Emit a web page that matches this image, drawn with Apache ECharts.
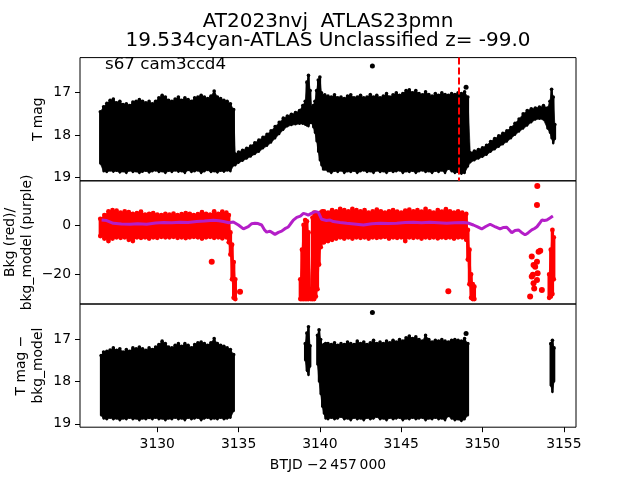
<!DOCTYPE html>
<html>
<head>
<meta charset="utf-8">
<script src="https://cdn.jsdelivr.net/npm/echarts/dist/echarts.min.js"></script>
<style>html,body{margin:0;padding:0;background:#fff}#c{width:640px;height:480px}</style>
</head>
<body>
<div id="c"></div>
<script>
// ---------- axis ticks ----------
const xTicks = [3130, 3135, 3140, 3145, 3150, 3155];
const magTicks = [17, 18, 19];
const bkgTicks = [-20, 0];
const xRange = [3125.25, 3155.75];
const p1Range = [16.17, 19.08];
const p2Range = [-32, 17.9];
const p3Range = [16.16, 19.08];
const flareTime = 3148.56;

// ---------- panel 1: T mag envelope (time, brightest, faintest) ----------
const p1aT = [3126.5,3126.7,3126.9,3127.1,3127.3,3127.5,3127.7,3127.9,3128.1,3128.3,3128.5,3128.7,3128.9,3129.1,3129.3,3129.5,3129.7,3129.9,3130.1,3130.3,3130.5,3130.7,3130.9,3131.1,3131.3,3131.5,3131.7,3131.9,3132.1,3132.3,3132.5,3132.7,3132.9,3133.1,3133.3,3133.5,3133.7,3133.9,3134.1,3134.3,3134.5,3134.7];
const p1aTop = [17.45,17.33,17.25,17.18,17.15,17.24,17.2,17.28,17.26,17.3,17.22,17.2,17.16,17.2,17.24,17.2,17.26,17.2,17.12,17.06,17.1,17.18,17.2,17.15,17.1,17.18,17.12,17.16,17.2,17.12,17.1,17.06,17.1,17.14,17.08,16.96,17.1,17.14,17.18,17.2,17.26,17.4];
const p1aBot = [18.68,18.86,18.88,18.84,18.87,18.85,18.89,18.86,18.9,18.84,18.88,18.86,18.9,18.87,18.85,18.89,18.86,18.84,18.88,18.86,18.9,18.85,18.88,18.84,18.87,18.86,18.9,18.83,18.88,18.86,18.84,18.9,18.86,18.83,18.88,18.86,18.89,18.85,18.87,18.84,18.86,18.72];
const p1bT = [3134.8,3135.0,3135.25,3135.5,3135.75,3136.0,3136.25,3136.5,3136.75,3137.0,3137.25,3137.5,3137.75,3138.0,3138.25,3138.5,3138.75,3138.95,3139.1,3139.2,3139.3,3139.4,3139.5,3139.6,3139.7,3139.8,3139.9,3140.0,3140.1,3140.2];
const p1bTop = [18.45,18.4,18.36,18.31,18.26,18.18,18.12,18.05,17.98,17.9,17.8,17.7,17.6,17.55,17.51,17.47,17.42,17.3,17.2,16.75,16.59,16.95,17.35,17.3,17.2,16.95,16.7,16.63,17.0,17.08];
const p1bBot = [18.72,18.66,18.61,18.56,18.51,18.45,18.4,18.32,18.26,18.18,18.08,17.98,17.88,17.8,17.77,17.75,17.74,17.74,17.76,17.78,17.8,17.72,17.72,17.82,17.95,18.15,18.4,18.6,18.72,18.82];
const p1cT = [3140.3,3140.5,3140.7,3140.9,3141.1,3141.3,3141.5,3141.7,3141.9,3142.1,3142.3,3142.5,3142.7,3142.9,3143.1,3143.3,3143.5,3143.7,3143.9,3144.1,3144.3,3144.5,3144.7,3144.9,3145.1,3145.3,3145.5,3145.7,3145.9,3146.1,3146.3,3146.5,3146.7,3146.9,3147.1,3147.3,3147.5,3147.7,3147.9,3148.1,3148.3,3148.5,3148.7,3148.9,3149.1];
const p1cTop = [17.05,17.08,17.1,17.05,17.12,17.1,17.14,17.08,17.05,17.12,17.1,17.06,17.12,17.1,17.04,17.1,17.06,17.12,17.08,17.02,17.1,17.05,17.0,17.06,17.02,16.95,16.93,17.0,16.95,17.02,17.05,16.98,17.04,17.08,17.02,17.06,17.0,17.04,17.06,17.02,17.04,17.0,17.02,16.98,17.1];
const p1cBot = [18.82,18.86,18.9,18.85,18.88,18.84,18.9,18.86,18.88,18.85,18.9,18.86,18.84,18.88,18.86,18.9,18.84,18.88,18.86,18.9,18.85,18.88,18.86,18.84,18.9,18.86,18.88,18.85,18.9,18.86,18.84,18.88,18.86,18.9,18.85,18.88,18.84,18.9,18.8,18.86,18.9,18.88,18.92,18.9,18.75];
const p1dT = [3149.25,3149.5,3149.75,3150.0,3150.25,3150.5,3150.75,3151.0,3151.25,3151.5,3151.75,3152.0,3152.25,3152.5,3152.75,3153.0,3153.25,3153.5,3153.75,3154.0,3154.15,3154.25,3154.35,3154.45];
const p1dTop = [18.42,18.38,18.34,18.3,18.24,18.15,18.08,18.02,17.96,17.9,17.82,17.72,17.62,17.5,17.42,17.38,17.36,17.34,17.3,17.36,17.2,16.92,17.1,17.75];
const p1dBot = [18.65,18.6,18.56,18.52,18.47,18.4,18.34,18.28,18.22,18.16,18.08,18.0,17.92,17.85,17.78,17.7,17.64,17.62,17.64,17.85,17.95,18.08,18.2,18.1];
const p1PtT = [3143.23, 3148.99];
const p1PtM = [16.37, 16.87];

// ---------- panel 2: Bkg envelope (red) and bkg_model (purple) ----------
const p2aT = [3126.5,3126.75,3127,3127.25,3127.5,3127.75,3128,3128.25,3128.5,3128.75,3129,3129.25,3129.5,3129.75,3130,3130.25,3130.5,3130.75,3131,3131.25,3131.5,3131.75,3132,3132.25,3132.5,3132.75,3133,3133.25,3133.5,3133.75,3134,3134.25,3134.4,3134.5,3134.6,3134.7,3134.8];
const p2aTop = [2.5,4.0,5.5,6.0,5.8,5.0,5.5,5.2,4.5,4.8,5.4,4.2,4.5,4.8,4.2,4.0,4.5,4.2,4.6,4.0,4.4,4.8,4.5,4.0,4.4,5.2,4.5,4.2,5.5,4.5,5.4,5.0,4.0,-3,-8,-15,-22];
const p2aBot = [-4.5,-5.5,-6.5,-5.5,-5.0,-5.2,-5.0,-6.0,-6.5,-5.0,-5.2,-5.0,-5.5,-5.0,-5.2,-4.8,-5.0,-5.0,-4.8,-5.2,-5.0,-5.3,-5.0,-4.8,-5.0,-5.5,-5.0,-4.8,-5.2,-5.0,-5.4,-5.0,-7.0,-12,-22,-29.5,-30];
const p2bT = [3138.8,3138.9,3139.0,3139.1,3139.2,3139.3,3139.45,3139.55,3139.65,3139.75,3139.85,3139.95,3140.05,3140.15,3140.25,3140.5,3140.75,3141,3141.25,3141.5,3141.75,3142,3142.25,3142.5,3142.75,3143,3143.25,3143.5,3143.75,3144,3144.25,3144.5,3144.75,3145,3145.25,3145.5,3145.75,3146,3146.25,3146.5,3146.75,3147,3147.25,3147.5,3147.75,3148,3148.25,3148.5,3148.75,3149,3149.1,3149.2,3149.3,3149.4,3149.5];
const p2bTop = [-22,-10,0,2,1.5,-3,-26,3,5,4.5,4,4.5,5,5.5,5.5,5.0,6.0,5.5,6.5,6.0,5.5,6.5,6.0,5.5,6.0,5.0,5.5,6.2,5.5,5.0,5.5,6.0,5.4,5.0,5.8,6.2,5.5,6.0,5.4,6.5,5.5,5.0,6.0,5.4,6.4,5.5,5.0,5.5,5.0,4.5,-2,-10,-20,-24,-25];
const p2bBot = [-30,-30,-30,-30,-30,-30,-30,-30,-30,-29,-26,-16,-9,-7,-7,-6.5,-6,-5.5,-5,-5.5,-5,-5.5,-5,-5.2,-5,-5.5,-5,-5.2,-5,-4.8,-5.5,-5,-5.2,-5,-6.5,-5,-5.2,-5,-5.5,-5,-5.2,-5,-5.4,-5,-5.2,-5,-5.5,-5,-5,-6,-14,-24,-29.5,-30,-30];
const p2cT = [3154.1,3154.2,3154.3,3154.38];
const p2cTop = [-20,-10,-2,-5];
const p2cBot = [-29.5,-29,-28,-22];
const p2PtT = [3133.35,3135.09,3147.9,3153.37,3153.35,3153.03,3153.45,3153.55,3153.14,3153.24,3153.35,3153.03,3153.35,3153.14,3153.18,3153.65,3152.93,3153.1,3153.39];
const p2PtV = [-14.9,-27,-26.8,15.8,8.1,-12.8,-10.8,-10.4,-16.2,-16.9,-14.9,-20.9,-22.3,-23.6,-25.7,-26.3,-29,-20.2,-19.5];
const modelT = [3126.58,3126.89,3127.3,3127.8,3128.33,3128.8,3129.35,3129.9,3130.38,3130.9,3131.4,3131.9,3132.42,3132.9,3133.45,3133.8,3134.07,3134.4,3134.68,3134.99,3135.3,3135.6,3135.8,3136.01,3136.2,3136.42,3136.6,3136.73,3136.94,3137.24,3137.45,3137.65,3137.85,3138.06,3138.2,3138.37,3138.58,3138.8,3138.99,3139.15,3139.29,3139.45,3139.6,3139.75,3139.91,3140.11,3140.4,3140.63,3140.83,3141.24,3141.65,3142.1,3142.68,3143.2,3143.7,3144.2,3144.73,3145.25,3145.75,3146.25,3146.78,3147.3,3147.8,3148.3,3148.83,3149.1,3149.44,3149.7,3149.95,3150.2,3150.47,3150.8,3151.08,3151.3,3151.49,3151.65,3151.8,3152.0,3152.21,3152.4,3152.62,3152.8,3153.03,3153.2,3153.35,3153.5,3153.65,3153.8,3153.96,3154.15,3154.33];
const modelV = [2.0,1.8,0.7,0.4,0.3,0.5,0.3,0.8,1.0,0.9,1.1,1.0,1.4,1.6,1.9,1.7,1.4,0.9,1.2,0,-1.6,-0.7,0.5,0.7,0.6,0,-2.0,-2.9,-2.5,-3.8,-3.0,-2.5,-1.5,-0.8,0.5,2.0,3.1,3.6,4.7,4.4,4.0,4.6,5.1,5.4,5.1,2.3,1.8,2.0,1.4,1.0,0.7,0.4,0,0.5,0.7,0.6,0.7,1.0,1.1,0.9,1.1,0.9,0.7,0.9,1.0,0.8,0,-0.8,-1.6,-0.6,0.3,-0.8,-1.6,-1.0,-0.9,-2.0,-3.1,-2.2,-2.0,-3.0,-4.0,-3.2,-2.0,-1.4,-0.7,0.6,2.0,1.8,2.0,2.8,3.6];

// ---------- panel 3: T mag - bkg_model envelope ----------
const p3aT = [3126.55,3126.7,3126.9,3127.1,3127.3,3127.5,3127.7,3127.9,3128.1,3128.3,3128.5,3128.7,3128.9,3129.1,3129.3,3129.5,3129.7,3129.9,3130.1,3130.3,3130.5,3130.7,3130.9,3131.1,3131.3,3131.5,3131.7,3131.9,3132.1,3132.3,3132.5,3132.7,3132.9,3133.1,3133.3,3133.5,3133.7,3133.9,3134.1,3134.3,3134.5,3134.7];
const p3aTop = [17.38,17.3,17.28,17.25,17.2,17.26,17.22,17.3,17.24,17.28,17.2,17.22,17.18,17.22,17.26,17.2,17.24,17.18,17.12,17.04,17.1,17.18,17.2,17.14,17.1,17.16,17.1,17.14,17.2,17.12,17.08,17.06,17.1,17.14,17.08,16.98,17.1,17.14,17.16,17.2,17.24,17.36];
const p3aBot = [18.8,18.88,18.9,18.86,18.9,18.88,18.92,18.88,18.9,18.86,18.9,18.88,18.92,18.88,18.9,18.87,18.9,18.86,18.9,18.88,18.92,18.88,18.9,18.86,18.9,18.88,18.92,18.86,18.9,18.88,18.86,18.92,18.88,18.86,18.9,18.88,18.9,18.86,18.9,18.88,18.86,18.7];
const p3bT = [3139.1,3139.2,3139.3,3139.4];
const p3bTop = [17.1,16.85,16.7,17.15];
const p3bBot = [17.5,17.75,17.85,17.65];
const p3cT = [3139.85,3139.95,3140.05,3140.15,3140.25,3140.35,3140.5,3140.7,3140.9,3141.1,3141.3,3141.5,3141.7,3141.9,3142.1,3142.3,3142.5,3142.7,3142.9,3143.1,3143.3,3143.5,3143.7,3143.9,3144.1,3144.3,3144.5,3144.7,3144.9,3145.1,3145.3,3145.5,3145.7,3145.9,3146.1,3146.3,3146.5,3146.7,3146.9,3147.1,3147.3,3147.5,3147.7,3147.9,3148.1,3148.3,3148.5,3148.7,3148.9,3149.1];
const p3cTop = [16.9,16.77,17.0,17.15,17.12,17.1,17.1,17.12,17.08,17.14,17.1,17.12,17.06,17.1,17.12,17.04,17.1,17.06,17.12,17.08,17.02,17.1,17.06,17.1,17.04,17.08,17.02,17.06,17.0,17.04,16.96,16.92,16.98,16.94,17.0,17.04,16.9,17.0,17.06,17.02,17.04,17.0,17.04,17.06,17.02,17.0,17.02,17.04,16.98,17.1];
const p3cBot = [17.6,18.0,18.3,18.6,18.76,18.88,18.9,18.86,18.9,18.88,18.84,18.9,18.88,18.92,18.86,18.9,18.88,18.92,18.86,18.9,18.88,18.84,18.9,18.88,18.92,18.86,18.9,18.88,18.86,18.92,18.88,18.9,18.86,18.9,18.88,18.86,18.92,18.88,18.9,18.86,18.9,18.88,18.92,18.82,18.88,18.92,18.9,18.94,18.9,18.8];
const p3dT = [3154.2,3154.3,3154.4];
const p3dTop = [17.1,17.02,17.2];
const p3dBot = [18.1,18.25,18.0];
const p3PtT = [3143.23, 3148.99];
const p3PtM = [16.36, 16.86];

// ---------- build ----------
const FONT = 'DejaVu Sans';
const L = 80, W = 496, H = 123.2, TOPS = [57.6, 180.8, 304];

function band(T, A, B, rTop, rBot, color, xi) {
  const data = T.map((t, i) => [t, A[i], B[i]]);
  return {
    type: 'custom', xAxisIndex: xi, yAxisIndex: xi, clip: true, silent: true,
    data: data, encode: {x: 0, y: [1, 2]},
    renderItem: function (params, api) {
      const i = params.dataIndex;
      const t = api.value(0);
      const p1 = api.coord([t, api.value(1)]);
      const p2 = api.coord([t, api.value(2)]);
      const ch = [];
      if (i + 1 < data.length && data[i + 1][0] - t <= 0.3) {
        const q1 = api.coord([data[i + 1][0], data[i + 1][1]]);
        const q2 = api.coord([data[i + 1][0], data[i + 1][2]]);
        ch.push({type: 'polygon', shape: {points: [p1, q1, q2, p2]}, style: {fill: color, stroke: color, lineWidth: 0.6}});
      }
      const rw = Math.max(rTop, rBot) * 0.7;
      ch.push({type: 'rect', shape: {x: p1[0] - rw, y: Math.min(p1[1], p2[1]), width: rw * 2, height: Math.abs(p2[1] - p1[1])}, style: {fill: color}});
      ch.push({type: 'circle', shape: {cx: p1[0], cy: p1[1], r: rTop}, style: {fill: color}});
      ch.push({type: 'circle', shape: {cx: p2[0], cy: p2[1], r: rBot}, style: {fill: color}});
      return {type: 'group', children: ch};
    }
  };
}

const fmt = v => String(v).replace('-', '\u2212');
function xAxis(i) {
  const bottom = i === 2;
  return {
    type: 'value', gridIndex: i, min: xRange[0], max: xRange[1],
    axisLine: {show: false}, splitLine: {show: false},
    axisTick: {show: bottom, length: 5, customValues: xTicks, lineStyle: {color: '#000', width: 1}},
    axisLabel: {show: bottom, customValues: xTicks, formatter: v => String(v), color: '#000', fontSize: 13.9, fontFamily: FONT, margin: 10}
  };
}
function yAxis(i, rng, ticks, inv) {
  return {
    type: 'value', gridIndex: i, min: rng[0], max: rng[1], inverse: inv,
    axisLine: {show: false}, splitLine: {show: false},
    axisTick: {show: true, length: 5, customValues: ticks, lineStyle: {color: '#000', width: 1}},
    axisLabel: {show: true, customValues: ticks, formatter: fmt, color: '#000', fontSize: 13.9, fontFamily: FONT, margin: 9}
  };
}

function txt(x, y, s, size, rot, align) {
  return {type: 'text', x: x, y: y, rotation: rot || 0, silent: true,
    style: {text: s, fontSize: size, fontFamily: FONT, fill: '#000', align: align || 'center', verticalAlign: 'middle'}};
}

const BLACK = '#000000', RED = '#ff0000', PURPLE = '#b41ec8';

const option = {
  animation: false,
  backgroundColor: '#fff',
  grid: TOPS.map(t => ({left: L, top: t, width: W, height: H, show: true, borderColor: '#000', borderWidth: 1, backgroundColor: 'transparent'})),
  xAxis: [xAxis(0), xAxis(1), xAxis(2)],
  yAxis: [yAxis(0, p1Range, magTicks, true), yAxis(1, p2Range, bkgTicks, false), yAxis(2, p3Range, magTicks, true)],
  series: [
    band(p1aT.concat(p1bT, p1cT, p1dT), p1aTop.concat(p1bTop, p1cTop, p1dTop), p1aBot.concat(p1bBot, p1cBot, p1dBot), 1.8, 1.0, BLACK, 0),
    {type: 'scatter', xAxisIndex: 0, yAxisIndex: 0, symbolSize: 5, itemStyle: {color: BLACK, opacity: 1}, silent: true,
     data: p1PtT.map((t, i) => [t, p1PtM[i]]),
     markLine: {silent: true, symbol: ['none', 'none'], label: {show: false},
       lineStyle: {color: RED, type: [7, 3], width: 2, opacity: 1}, data: [{xAxis: flareTime}]}},
    band(p2aT, p2aTop, p2aBot, 2.4, 2.4, RED, 1),
    band(p2bT, p2bTop, p2bBot, 2.4, 2.4, RED, 1),
    band(p2cT, p2cTop, p2cBot, 2.4, 2.4, RED, 1),
    {type: 'scatter', xAxisIndex: 1, yAxisIndex: 1, symbolSize: 6, itemStyle: {color: RED, opacity: 1}, silent: true,
     data: p2PtT.map((t, i) => [t, p2PtV[i]])},
    {type: 'line', xAxisIndex: 1, yAxisIndex: 1, showSymbol: false, silent: true, z: 5,
     lineStyle: {color: PURPLE, width: 3}, itemStyle: {color: PURPLE},
     data: modelT.map((t, i) => [t, modelV[i]])},
    band(p3aT.concat(p3bT, p3cT, p3dT), p3aTop.concat(p3bTop, p3cTop, p3dTop), p3aBot.concat(p3bBot, p3cBot, p3dBot), 1.8, 1.0, BLACK, 2),
    {type: 'scatter', xAxisIndex: 2, yAxisIndex: 2, symbolSize: 5, itemStyle: {color: BLACK, opacity: 1}, silent: true,
     data: p3PtT.map((t, i) => [t, p3PtM[i]])}
  ],
  graphic: [
    txt(328, 21.7, 'AT2023nvj  ATLAS23pmn', 20),
    txt(328, 40.8, '19.534cyan-ATLAS Unclassified z= -99.0', 20),
    txt(105, 64.5, 's67 cam3ccd4', 16.7, 0, 'left'),
    txt(38.6, 119.2, 'T mag', 13.9, Math.PI / 2),
    txt(10.3, 242.4, 'Bkg (red)/', 13.9, Math.PI / 2),
    txt(27.2, 242.4, 'bkg_model (purple)', 13.9, Math.PI / 2),
    txt(21.5, 365.6, 'T mag \u2212', 13.9, Math.PI / 2),
    txt(38.3, 365.6, 'bkg_model', 13.9, Math.PI / 2),
    txt(328, 465, 'BTJD \u22122\u2009457\u2009000', 13.9)
  ]
};

const chart = echarts.init(document.getElementById('c'), null, {renderer: 'canvas'});
chart.setOption(option);
</script>
</body>
</html>
